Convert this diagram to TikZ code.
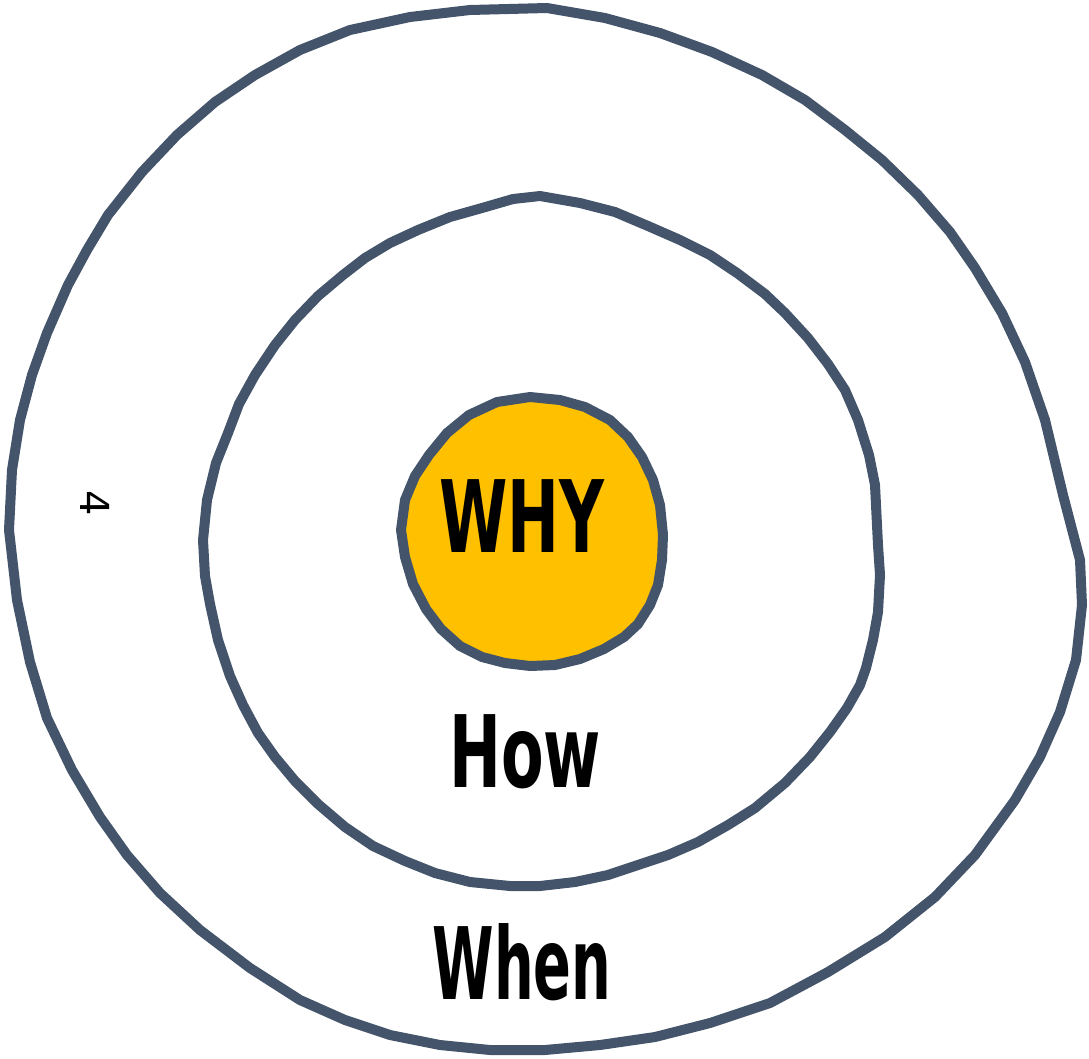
\documentclass[tikz,border=0pt]{standalone}
\usepackage{fontspec}
\setmainfont{DejaVu Sans}
\definecolor{ringc}{HTML}{44546A}
\definecolor{sunc}{HTML}{FFC000}
\begin{document}
\begin{tikzpicture}[x=1pt,y=-1pt,
  ring/.style={draw=ringc,line width=10pt,line join=round},
  hand/.style={font=\bfseries\fontsize{100}{100}\selectfont,inner sep=0pt,xscale=0.62}]
\useasboundingbox (0,0) rectangle (1089,1058);
% outer ring
\draw[ring] (547,8) -- (605,18) -- (660,33) -- (712,52) -- (762,75) -- (805,100) -- (845,130) -- (882,160) -- (918,195) -- (950,232) -- (975,268) -- (1002,313) -- (1025,362) -- (1045,420) -- (1063,495) -- (1080,560) -- (1082,605) -- (1076,660) -- (1060,712) -- (1040,757) -- (1015,800) -- (975,855) -- (935,897) -- (885,937) -- (828,972) -- (770,1003) -- (710,1023) -- (655,1037) -- (600,1045) -- (545,1050) -- (490,1050) -- (440,1045) -- (390,1035) -- (345,1020) -- (300,1000) -- (250,968) -- (200,930) -- (160,893) -- (127,855) -- (100,817) -- (72,770) -- (47,718) -- (30,662) -- (17,600) -- (9,530) -- (12,470) -- (20,420) -- (32,375) -- (47,333) -- (68,285) -- (87,250) -- (108,215) -- (142,172) -- (177,135) -- (215,102) -- (255,75) -- (300,50) -- (350,30) -- (410,17) -- (470,10) -- cycle;
% middle ring
\draw[ring] (513,199) -- (540,196) -- (580,203) -- (615,212) -- (648,226) -- (680,240) -- (710,255) -- (737,273) -- (765,294) -- (785,313) -- (808,338) -- (828,364) -- (845,390) -- (858,420) -- (869,455) -- (875,485) -- (878,545) -- (880,575) -- (878,612) -- (873,640) -- (866,668) -- (860,685) -- (847,708) -- (830,732) -- (810,757) -- (785,783) -- (755,808) -- (728,825) -- (698,842) -- (668,855) -- (638,865) -- (608,875) -- (575,882) -- (540,886) -- (510,886) -- (470,882) -- (435,873) -- (405,861) -- (373,846) -- (345,827) -- (318,804) -- (295,781) -- (275,757) -- (258,733) -- (243,705) -- (230,676) -- (218,640) -- (210,604) -- (205,576) -- (203,540) -- (207,500) -- (216,463) -- (228,433) -- (239,404) -- (255,375) -- (275,345) -- (295,320) -- (318,296) -- (343,275) -- (365,258) -- (390,243) -- (418,230) -- (450,217) -- (482,208) -- cycle;
% inner disc
\draw[ring,fill=sunc] (530,397) -- (560,400) -- (585,407) -- (610,420) -- (628,437) -- (642,457) -- (653,480) -- (660,505) -- (663,535) -- (662,560) -- (658,585) -- (650,605) -- (638,624) -- (624,637) -- (604,649) -- (580,659) -- (555,665) -- (530,666) -- (505,663) -- (482,657) -- (460,646) -- (441,629) -- (426,609) -- (413,584) -- (405,557) -- (401,530) -- (405,500) -- (415,476) -- (429,455) -- (447,433) -- (469,415) -- (497,402) -- cycle;
% texts
\node[hand] (why) at (522,516) {WHY};
\node[hand] (how) at (525,752) {How};
\node[hand,xscale=0.9] (when) at (522,962) {When};
\node[font=\fontsize{40}{40}\selectfont,rotate=-90,inner sep=0pt] (four) at (95,503) {4};
\end{tikzpicture}
\end{document}
